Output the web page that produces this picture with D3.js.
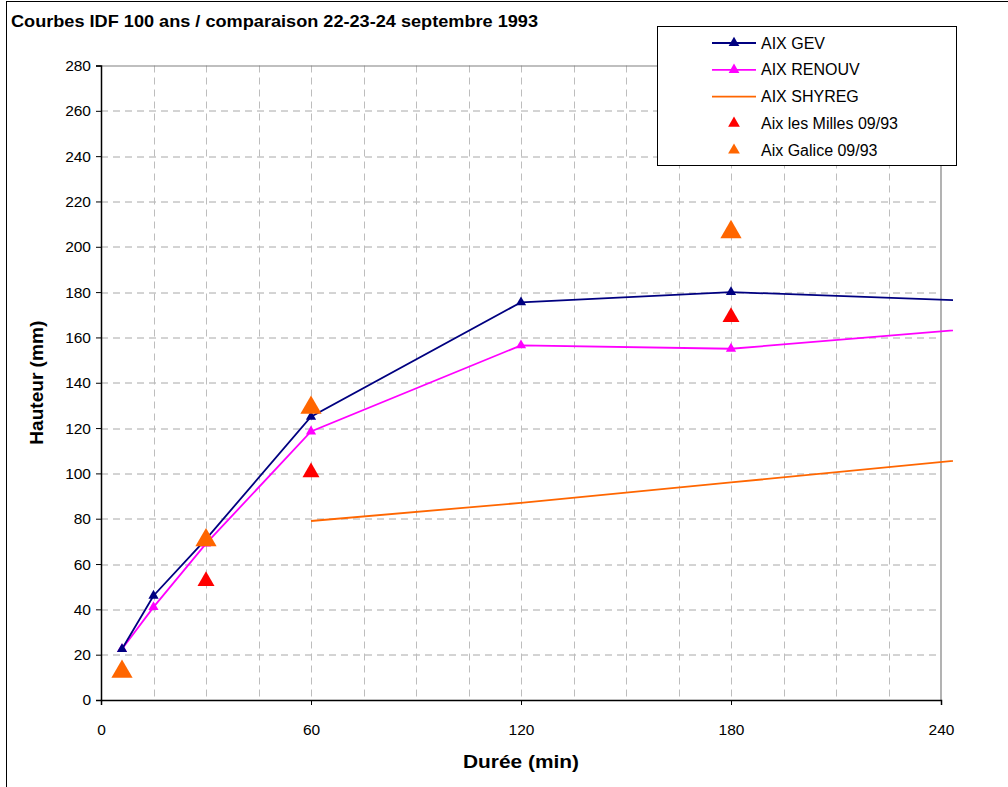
<!DOCTYPE html>
<html><head><meta charset="utf-8">
<script src="https://cdn.jsdelivr.net/npm/d3@7"></script>
<style>body{margin:0;background:#fff}svg{display:block;font-family:"Liberation Sans",Arial,sans-serif}</style>
</head><body><div id="chart"></div>
<script>
const title = "Courbes IDF 100 ans / comparaison 22-23-24 septembre 1993";
const xLabel = "Durée (min)";
const yLabel = "Hauteur (mm)";
const xTicks = [0, 60, 120, 180, 240];
const xGrid = [15, 30, 45, 60, 75, 90, 105, 120, 135, 150, 165, 180, 195, 210, 225, 240];
const yTicks = [0, 20, 40, 60, 80, 100, 120, 140, 160, 180, 200, 220, 240, 260, 280];

const gevDur = [6, 15, 30, 60, 120, 180, 360];
const gevVal = [22.5, 46, 71, 125, 175.5, 180, 170];
const renDur = [6, 15, 30, 60, 120, 180, 360];
const renVal = [22.5, 41, 69, 118.5, 156.5, 155, 178];
const shyDur = [60, 120, 180, 360];
const shyVal = [79, 87, 96, 123];
const millesDur = [30, 60, 180];
const millesVal = [52.5, 100.5, 169];
const galiceDur = [6, 30, 60, 180];
const galiceVal = [12.5, 70.5, 129, 206.5];

const W = 1008, H = 787;
const m = {left: 101, right: 67, top: 65.5, bottom: 87};
const iw = W - m.left - m.right, ih = H - m.top - m.bottom;

const svg = d3.select("#chart").append("svg").attr("width", W).attr("height", H);
svg.append("rect").attr("x", 6.5).attr("y", 1.5).attr("width", 1100).attr("height", 900)
  .attr("fill", "#fff").attr("stroke", "#000").attr("stroke-width", 1);

svg.append("text").attr("x", 11).attr("y", 27).attr("font-size", 16.5).attr("font-weight", "bold")
  .attr("textLength", 527).attr("lengthAdjust", "spacingAndGlyphs").text(title);

const x = d3.scaleLinear().domain([0, 240]).range([0, iw]);
const y = d3.scaleLinear().domain([0, 280]).range([ih, 0]);

const g = svg.append("g").attr("transform", `translate(${m.left},${m.top})`);

// grid
g.append("g").selectAll("line").data(yTicks.filter(d => d > 0 && d < 280)).join("line")
  .attr("x1", 0).attr("x2", iw).attr("y1", d => Math.round(y(d)) + 0.5).attr("y2", d => Math.round(y(d)) + 0.5)
  .attr("stroke", "#a8a8a8").attr("stroke-dasharray", "7,5");
g.append("g").selectAll("line").data(xGrid.filter(d => d < 240)).join("line")
  .attr("y1", 0).attr("y2", ih).attr("x1", d => Math.round(x(d)) + 0.5).attr("x2", d => Math.round(x(d)) + 0.5)
  .attr("stroke", "#bdbdbd").attr("stroke-dasharray", "7,5");
// plot border top/right
g.append("path").attr("d", `M0,0.5H${iw}V${ih}`).attr("fill", "none").attr("stroke", "#808080").attr("stroke-width", 1.2);

// axes
const xAxis = g.append("g").attr("transform", `translate(0,${ih})`)
  .call(d3.axisBottom(x).tickValues(xTicks).tickSize(5).tickPadding(19).tickFormat(d3.format("d")));
const yAxis = g.append("g")
  .call(d3.axisLeft(y).tickValues(yTicks).tickSize(5).tickPadding(5).tickFormat(d3.format("d")));
[xAxis, yAxis].forEach(a => {
  a.select(".domain").attr("stroke", "#000").attr("stroke-width", 1.5);
  a.selectAll(".tick line").attr("stroke", "#000");
  a.selectAll("text").attr("font-size", 15.5).attr("fill", "#000").attr("font-family", '"Liberation Sans",Arial,sans-serif');
});

svg.append("text").attr("x", m.left + iw / 2).attr("y", 768).attr("text-anchor", "middle")
  .attr("font-size", 19).attr("font-weight", "bold").attr("textLength", 116).attr("lengthAdjust", "spacingAndGlyphs").text(xLabel);
svg.append("text").attr("transform", `translate(43,${m.top + ih / 2}) rotate(-90)`).attr("text-anchor", "middle")
  .attr("font-size", 19).attr("font-weight", "bold").attr("textLength", 124).attr("lengthAdjust", "spacingAndGlyphs").text(yLabel);

// clip for lines (extend slightly past plot area like the reference)
svg.append("clipPath").attr("id", "clipL").append("rect").attr("x", 0).attr("y", -10).attr("width", iw + 12).attr("height", ih + 20);

const line = d3.line().x(d => x(d[0])).y(d => y(d[1]));
const tri = (s) => d3.symbol().type(d3.symbolTriangle).size(s);

function series(dur, val, color, markerSize, showMarkers, drawLine) {
  const pts = dur.map((d, i) => [d, val[i]]);
  if (drawLine) g.append("path").attr("clip-path", "url(#clipL)").attr("d", line(pts))
    .attr("fill", "none").attr("stroke", color).attr("stroke-width", 1.8);
  if (showMarkers) g.append("g").selectAll("path").data(pts.filter(p => p[0] <= 240)).join("path")
    .attr("transform", p => `translate(${x(p[0])},${y(p[1])})`).attr("d", tri(markerSize)).attr("fill", color);
}
series(shyDur, shyVal, "#ff6600", 0, false, true);
series(renDur, renVal, "#ff00ff", 45, true, true);
series(gevDur, gevVal, "#000080", 45, true, true);
series(millesDur, millesVal, "#ff0000", 125, true, false);
series(galiceDur, galiceVal, "#ff6600", 195, true, false);

// legend
const legItems = [
  {name: "AIX GEV", color: "#000080", line: true, size: 50},
  {name: "AIX RENOUV", color: "#ff00ff", line: true, size: 50},
  {name: "AIX SHYREG", color: "#ff6600", line: true, size: 0},
  {name: "Aix les Milles 09/93", color: "#ff0000", line: false, size: 60},
  {name: "Aix Galice 09/93", color: "#ff6600", line: false, size: 60}
];
const lg = svg.append("g");
lg.append("rect").attr("x", 657.5).attr("y", 26.5).attr("width", 299).attr("height", 139)
  .attr("fill", "#fff").attr("stroke", "#000");
legItems.forEach((d, i) => {
  const cy = 43 + i * 26.8;
  if (d.line) lg.append("line").attr("x1", 712).attr("x2", 756).attr("y1", cy).attr("y2", cy)
    .attr("stroke", d.color).attr("stroke-width", 1.8);
  if (d.size) lg.append("path").attr("transform", `translate(734,${cy})`).attr("d", tri(d.size)).attr("fill", d.color);
  lg.append("text").attr("x", 761).attr("y", cy + 5.5).attr("font-size", 16).text(d.name);
});
</script></body></html>
